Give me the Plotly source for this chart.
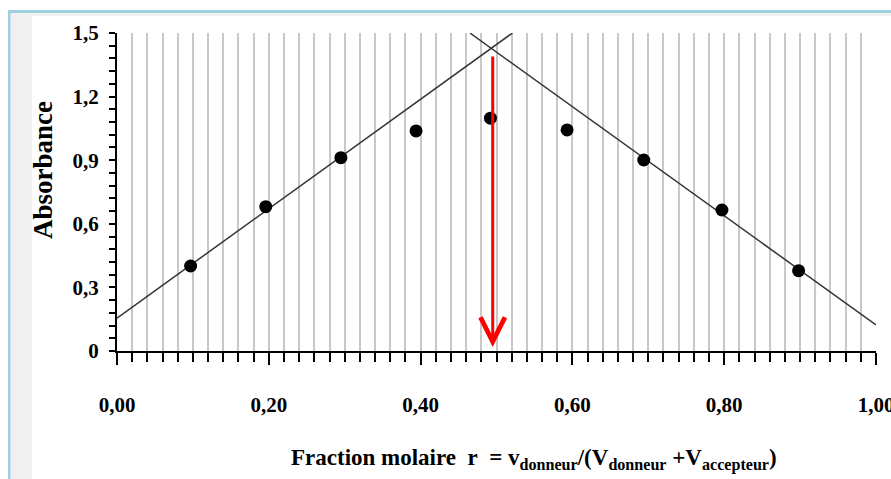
import plotly.graph_objects as go

# ---- data ----
fraction_r = [0.097, 0.196, 0.295, 0.394, 0.492, 0.593, 0.694, 0.797, 0.898]
absorbance = [0.401, 0.681, 0.912, 1.038, 1.098, 1.043, 0.901, 0.665, 0.379]

left_line_x = [0.0, 0.521]
left_line_y = [0.155, 1.5]
right_line_x = [0.465, 1.0]
right_line_y = [1.5, 0.123]

arrow_x = 0.495
arrow_y_top = 1.396
arrow_y_tip = 0.019

x_tickvals = [0.0, 0.2, 0.4, 0.6, 0.8, 1.0]
x_ticktext = ["0,00", "0,20", "0,40", "0,60", "0,80", "1,00"]
y_tickvals = [0.0, 0.3, 0.6, 0.9, 1.2, 1.5]
y_ticktext = ["0", "0,3", "0,6", "0,9", "1,2", "1,5"]

FONT = "Liberation Serif"
W, H = 891, 479
ML, MR, MT, MB = 117, 15, 33, 128
PW, PH = W - ML - MR, H - MT - MB


def px_x(p):
    return (p - ML) / PW


def px_y(p):
    return (H - MB - p) / PH


fig = go.Figure()

fig.add_trace(go.Scatter(x=left_line_x, y=left_line_y, mode="lines",
                         line=dict(color="#333333", width=1.5), hoverinfo="skip"))
fig.add_trace(go.Scatter(x=right_line_x, y=right_line_y, mode="lines",
                         line=dict(color="#333333", width=1.5), hoverinfo="skip"))
fig.add_trace(go.Scatter(x=fraction_r, y=absorbance, mode="markers",
                         marker=dict(color="black", size=13, symbol="circle")))

fig.add_annotation(x=arrow_x, y=arrow_y_tip, ax=arrow_x, ay=arrow_y_top,
                   xref="x", yref="y", axref="x", ayref="y", text="",
                   showarrow=True, arrowhead=5, arrowsize=1.6, arrowwidth=3,
                   arrowcolor="#ff0000", standoff=0, startstandoff=0)

# x title
fig.add_annotation(
    x=px_x(534), y=px_y(476), xref="paper", yref="paper",
    xanchor="center", yanchor="bottom", showarrow=False,
    text="<b>Fraction molaire\u00a0\u00a0r\u00a0\u00a0= v<sub>donneur</sub>/(V<sub>donneur</sub>\u00a0+V<sub>accepteur</sub>)</b>",
    font=dict(family=FONT, size=23, color="black"))

# y title
fig.add_annotation(
    x=px_x(43), y=px_y(170), xref="paper", yref="paper",
    xanchor="center", yanchor="middle", showarrow=False, textangle=-90,
    text="<b>Absorbance</b>", font=dict(family=FONT, size=27, color="black"))

# frame decoration
shapes = [
    dict(type="rect", xref="paper", yref="paper", x0=px_x(10), x1=px_x(32),
         y0=px_y(479), y1=px_y(13), fillcolor="#f0f0f0", line=dict(width=0), layer="below"),
    dict(type="rect", xref="paper", yref="paper", x0=px_x(10), x1=px_x(891),
         y0=px_y(16), y1=px_y(13), fillcolor="#f0f0f0", line=dict(width=0), layer="below"),
    dict(type="rect", xref="paper", yref="paper", x0=px_x(8), x1=px_x(10.5),
         y0=px_y(479), y1=px_y(10), fillcolor="#9fcfe0", line=dict(width=0), layer="below"),
    dict(type="rect", xref="paper", yref="paper", x0=px_x(8), x1=px_x(891),
         y0=px_y(13), y1=px_y(10), fillcolor="#9fcfe0", line=dict(width=0), layer="below"),
]

tickfont = dict(family=FONT, size=21, color="black", weight="bold")

fig.update_layout(
    width=W, height=H,
    margin=dict(l=ML, r=MR, t=MT, b=MB, autoexpand=False),
    paper_bgcolor="white", plot_bgcolor="white",
    showlegend=False, shapes=shapes,
    xaxis=dict(range=[0, 1], tickvals=x_tickvals, ticktext=x_ticktext,
               ticks="outside", ticklen=12, tickwidth=2, tickcolor="black",
               showline=True, linecolor="black", linewidth=2,
               showgrid=True, gridcolor="#c8c8c8", gridwidth=1.5, zeroline=False,
               minor=dict(dtick=0.02, tick0=0, ticks="outside", ticklen=9,
                          tickwidth=1.5, tickcolor="black", showgrid=True,
                          gridcolor="#c8c8c8", gridwidth=1.5),
               tickfont=tickfont, ticklabelstandoff=22, automargin=False,
               ticklabeloverflow="allow", fixedrange=True),
    xaxis2=dict(range=[0, 1], overlaying="x", anchor="y", side="bottom",
                tickvals=x_tickvals, ticks="inside", ticklen=8, tickwidth=2,
                tickcolor="black", showticklabels=False, showgrid=False,
                showline=False, zeroline=False,
                minor=dict(dtick=0.02, tick0=0, ticks="inside", ticklen=8,
                           tickwidth=1.5, tickcolor="black", showgrid=False)),
    yaxis=dict(range=[0, 1.5], tickvals=y_tickvals, ticktext=y_ticktext,
               ticks="outside", ticklen=6, tickwidth=2, tickcolor="black",
               showline=True, linecolor="black", linewidth=2,
               showgrid=False, zeroline=False,
               minor=dict(dtick=0.06, tick0=0, ticks="outside", ticklen=6,
                          tickwidth=1.5, tickcolor="black", showgrid=False),
               tickfont=tickfont, ticklabelstandoff=6, automargin=False,
               fixedrange=True),
    yaxis2=dict(range=[0, 1.5], overlaying="y", anchor="x", side="left",
                tickvals=y_tickvals, ticks="inside", ticklen=7, tickwidth=2,
                tickcolor="black", showticklabels=False, showgrid=False,
                showline=False, zeroline=False,
                minor=dict(dtick=0.06, tick0=0, ticks="inside", ticklen=7,
                           tickwidth=1.5, tickcolor="black", showgrid=False)),
)

fig.write_html("out.html", config={"displayModeBar": False},
               post_script="document.body.style.margin='0';")
